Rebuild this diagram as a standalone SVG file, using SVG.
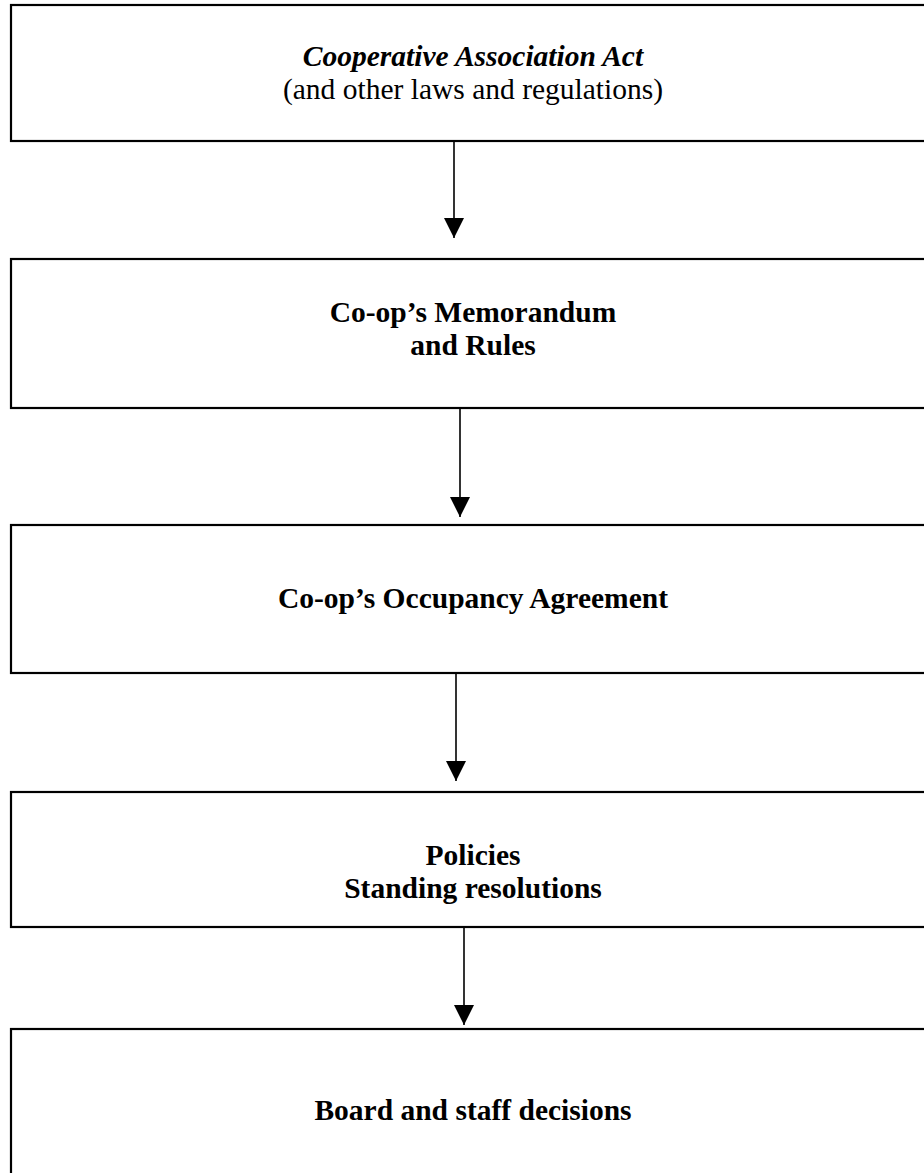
<svg xmlns="http://www.w3.org/2000/svg" width="924" height="1173" viewBox="0 0 924 1173">
<style>
.box{fill:#fff;stroke:#000;stroke-width:2.2}
.t{font-family:"Liberation Serif","Times New Roman",serif;font-size:29.5px;font-weight:bold;text-anchor:middle;fill:#000}
.n{font-weight:normal}
.i{font-style:italic}
.c{stroke:#000;stroke-width:1.6;fill:none}
</style>
<defs>
<marker id="ah" viewBox="0 0 20 20" markerWidth="20" markerHeight="20" refX="20" refY="10" orient="auto" markerUnits="userSpaceOnUse">
<path d="M0,0 L20,10 L0,20 Z" fill="#000"/>
</marker>
</defs>
<g id="node1">
<rect class="box" x="11" y="5" width="930" height="136"/>
<text class="t i" x="473" y="66">Cooperative Association Act</text>
<text class="t n" x="473" y="99">(and other laws and regulations)</text>
</g>
<g id="node2">
<rect class="box" x="11" y="259" width="930" height="149"/>
<text class="t" x="473" y="322">Co-op’s Memorandum</text>
<text class="t" x="473" y="355">and Rules</text>
</g>
<g id="node3">
<rect class="box" x="11" y="525" width="930" height="148"/>
<text class="t" x="473" y="608">Co-op’s Occupancy Agreement</text>
</g>
<g id="node4">
<rect class="box" x="11" y="792" width="930" height="135"/>
<text class="t" x="473" y="865">Policies</text>
<text class="t" x="473" y="898">Standing resolutions</text>
</g>
<g id="node5">
<rect class="box" x="11" y="1029" width="930" height="160"/>
<text class="t" x="473" y="1120">Board and staff decisions</text>
</g>
<g id="connectors">
<line class="c" x1="454" y1="142" x2="454" y2="238" marker-end="url(#ah)"/>
<line class="c" x1="460" y1="409" x2="460" y2="517" marker-end="url(#ah)"/>
<line class="c" x1="456" y1="674" x2="456" y2="781" marker-end="url(#ah)"/>
<line class="c" x1="464" y1="928" x2="464" y2="1025" marker-end="url(#ah)"/>
</g>
</svg>
